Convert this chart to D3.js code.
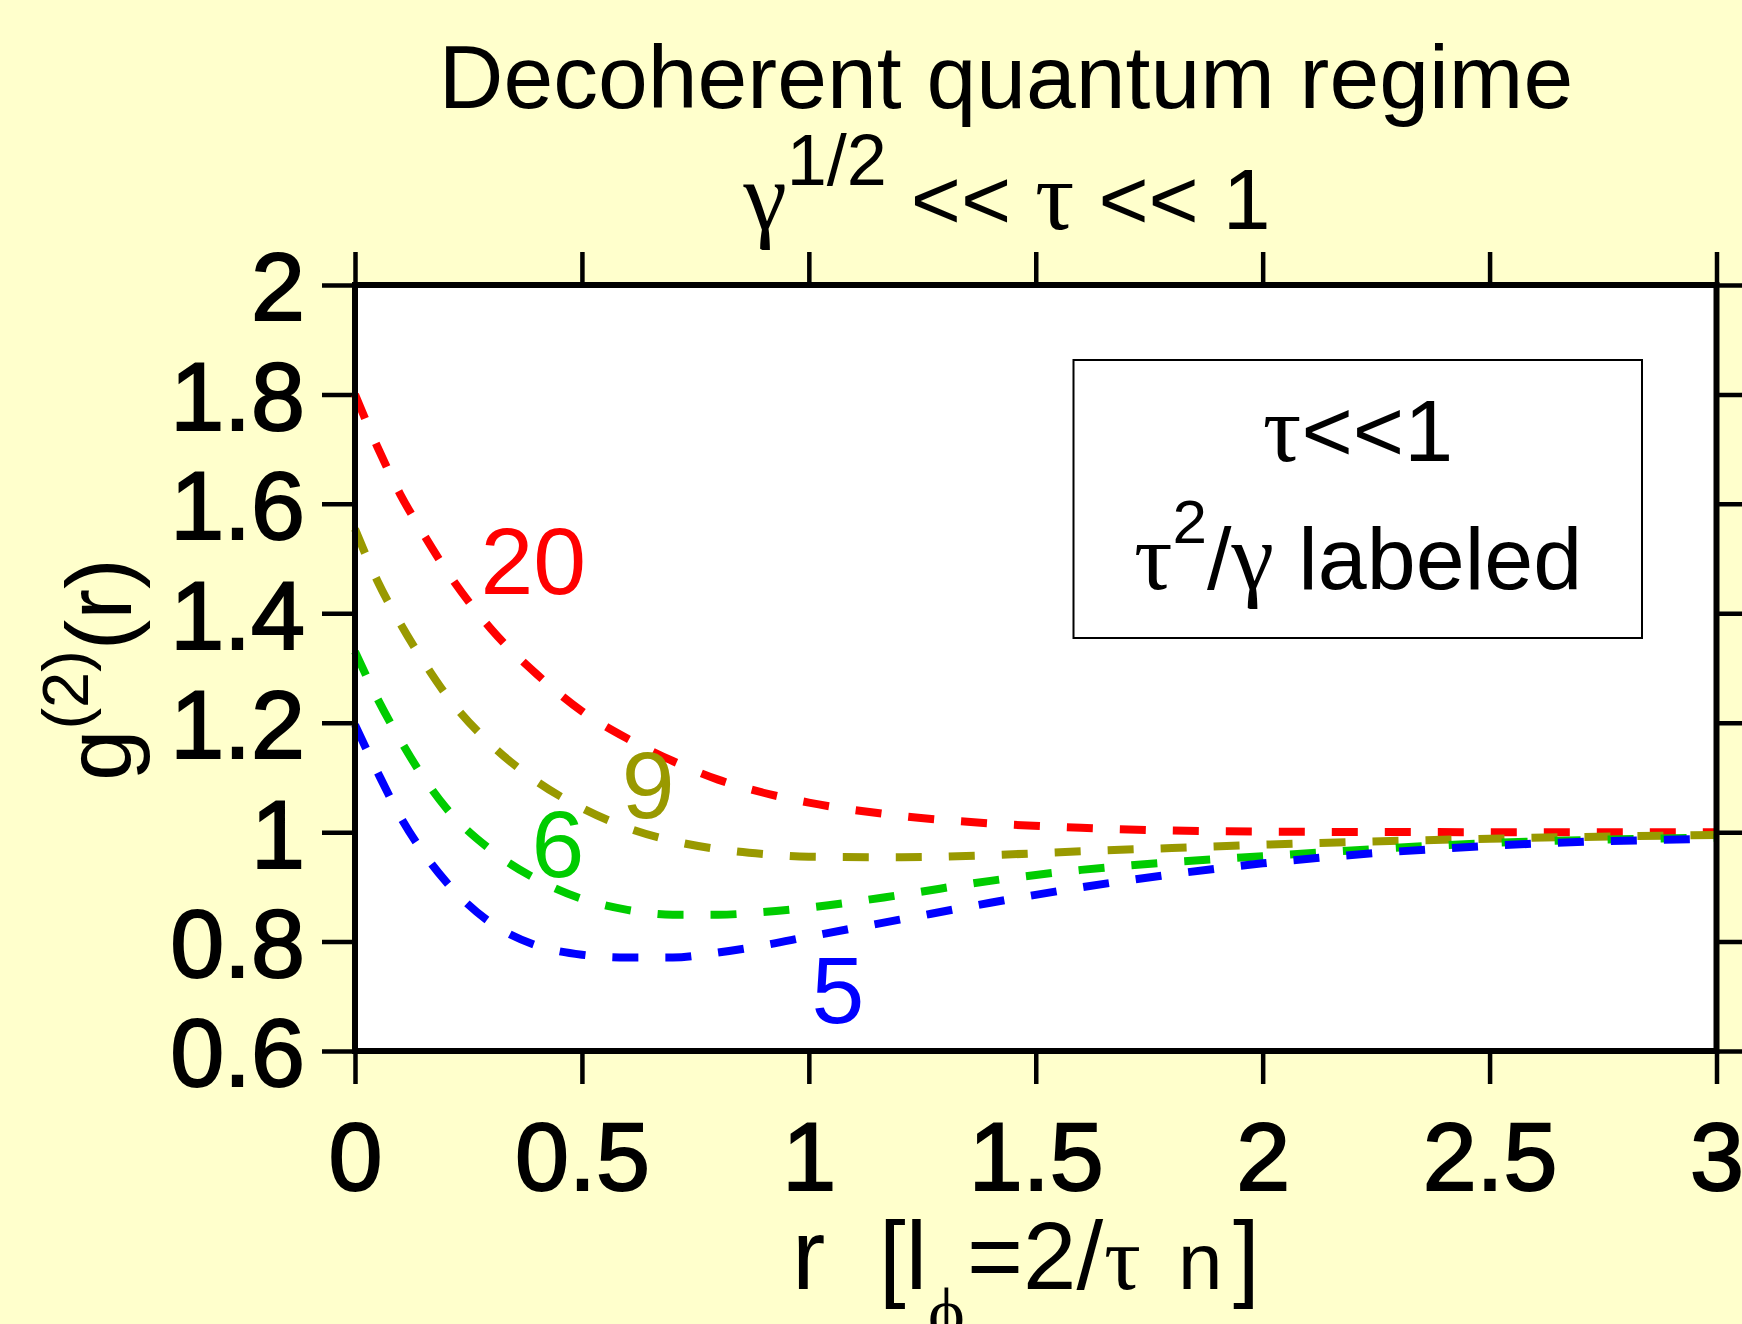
<!DOCTYPE html>
<html>
<head>
<meta charset="utf-8">
<script src="https://cdn.jsdelivr.net/npm/d3@7"></script>
<style>
  body { margin: 0; background: #ffffcc; }
  text { font-family: "Liberation Sans", Arial, Helvetica, sans-serif; fill: #000; }
  .greek { font-family: "Liberation Serif", "Times New Roman", serif; }
</style>
</head>
<body>
<svg id="grafico" width="1742" height="1324"></svg>
<script>

// valores: r en unidades de l_phi, g2(r) por cada tau^2/gamma
var radios = [0, 0.05, 0.1, 0.15, 0.2, 0.3, 0.4, 0.5, 0.6, 0.7, 0.8, 0.9, 1.0, 1.2, 1.4, 1.6, 1.8, 2.0, 2.5, 3.0];
var g2Veinte = [1.800, 1.703, 1.617, 1.546, 1.480, 1.371, 1.289, 1.221, 1.171, 1.130, 1.096, 1.072, 1.054, 1.030, 1.016, 1.008, 1.003, 1.001, 1.000, 1.000];
var g2Nueve  = [1.554, 1.458, 1.381, 1.313, 1.252, 1.160, 1.093, 1.044, 1.008, 0.984, 0.969, 0.960, 0.955, 0.954, 0.958, 0.965, 0.971, 0.977, 0.988, 0.995];
var g2Seis   = [1.330, 1.243, 1.168, 1.101, 1.045, 0.967, 0.914, 0.878, 0.858, 0.849, 0.849, 0.854, 0.862, 0.885, 0.911, 0.931, 0.945, 0.956, 0.980, 0.990];
var g2Cinco  = [1.196, 1.109, 1.028, 0.963, 0.910, 0.834, 0.793, 0.776, 0.771, 0.771, 0.780, 0.793, 0.809, 0.840, 0.871, 0.899, 0.923, 0.943, 0.975, 0.988];

var etiquetasCurvas = ["20", "9", "6", "5"];

var ticksX = [0, 0.5, 1, 1.5, 2, 2.5, 3];
var etiquetasX = ["0", "0.5", "1", "1.5", "2", "2.5", "3"];
var ticksY = [0.6, 0.8, 1, 1.2, 1.4, 1.6, 1.8, 2];
var etiquetasY = ["0.6", "0.8", "1", "1.2", "1.4", "1.6", "1.8", "2"];

// estilos y posiciones (no son datos)
var colores = ["#ff0000", "#999900", "#00cc00", "#0000ff"];
var posEtiquetas = [[0.393, 1.435], [0.646, 1.026], [0.447, 0.918], [1.064, 0.651]];

var izq = 355, arriba = 285;
var ancho = 1361.5, alto = 766;

var svg = d3.select("#grafico");

var x = d3.scaleLinear().domain([0, 3]).range([0, ancho]);
var y = d3.scaleLinear().domain([0.6, 2]).range([alto, 0]);

var g = svg.append("g").attr("transform", "translate(" + izq + "," + arriba + ")");

g.append("rect")
    .attr("width", ancho)
    .attr("height", alto)
    .style("fill", "#fff");

// ejes en los cuatro lados, ticks hacia fuera
function estiloEje(sel) {
    sel.select(".domain").remove();
    sel.selectAll(".tick line").style("stroke", "#000").style("stroke-width", 4.5);
    sel.selectAll(".tick text")
        .style("font-size", "97px")
        .style("fill", "#000")
        .style("stroke", "#000")
        .style("stroke-width", 2);
}

g.append("g")
    .call(d3.axisLeft(y).tickValues(ticksY).tickSize(33).tickPadding(17)
        .tickFormat(function (d, i) { return etiquetasY[i]; }))
    .call(estiloEje)
    .selectAll(".tick text").attr("dy", "0.36em");

g.append("g")
    .attr("transform", "translate(" + ancho + ",0)")
    .call(d3.axisRight(y).tickValues(ticksY).tickSize(33).tickFormat(""))
    .call(estiloEje);

g.append("g")
    .attr("transform", "translate(0," + alto + ")")
    .call(d3.axisBottom(x).tickValues(ticksX).tickSize(33).tickPadding(37)
        .tickFormat(function (d, i) { return etiquetasX[i]; }))
    .call(estiloEje);

g.append("g")
    .call(d3.axisTop(x).tickValues(ticksX).tickSize(33).tickFormat(""))
    .call(estiloEje);

// curvas
var series = [g2Veinte, g2Nueve, g2Seis, g2Cinco];

var linea = d3.line()
    .x(function (d) { return x(d[0]); })
    .y(function (d) { return y(d[1]); })
    .curve(d3.curveMonotoneX);

series.forEach(function (valores, i) {
    var puntos = radios.map(function (r, j) { return [r, valores[j]]; });
    g.append("path")
        .datum(puntos)
        .attr("d", linea)
        .style("fill", "none")
        .style("stroke", colores[i])
        .style("stroke-width", 8)
        .style("stroke-dasharray", "26,27");

    g.append("text")
        .attr("x", x(posEtiquetas[i][0]))
        .attr("y", y(posEtiquetas[i][1]))
        .attr("text-anchor", "middle")
        .style("font-size", "95px")
        .style("fill", colores[i])
        .text(etiquetasCurvas[i]);
});

// marco
g.append("rect")
    .attr("width", ancho)
    .attr("height", alto)
    .style("fill", "none")
    .style("stroke", "#000")
    .style("stroke-width", 6);

// recuadro de leyenda
svg.append("rect")
    .attr("x", 1073.5).attr("y", 360)
    .attr("width", 568.5).attr("height", 278)
    .style("fill", "#fff")
    .style("stroke", "#000")
    .style("stroke-width", 2);

var ley1 = svg.append("text")
    .attr("x", 1358).attr("y", 461)
    .attr("text-anchor", "middle")
    .style("font-size", "88px");
ley1.append("tspan").attr("class", "greek").style("font-size", "96px").text("τ");
ley1.append("tspan").text("<<1");

var ley2 = svg.append("text")
    .attr("x", 1358).attr("y", 589)
    .attr("text-anchor", "middle")
    .style("font-size", "88px");
ley2.append("tspan").attr("class", "greek").style("font-size", "96px").text("τ");
ley2.append("tspan").attr("dy", -46).style("font-size", "62px").text("2");
ley2.append("tspan").attr("dy", 46).text("/");
ley2.append("tspan").attr("class", "greek").style("font-size", "96px").text("γ");
ley2.append("tspan").text(" labeled");

// titulo
svg.append("text")
    .attr("x", 1006).attr("y", 108)
    .attr("text-anchor", "middle")
    .style("font-size", "89.5px")
    .text("Decoherent quantum regime");

var tit2 = svg.append("text")
    .attr("x", 1007).attr("y", 229)
    .attr("text-anchor", "middle")
    .style("font-size", "86px")
    .style("white-space", "pre");
tit2.append("tspan").attr("class", "greek").style("font-size", "98px").text("γ");
tit2.append("tspan").attr("dy", -44).style("font-size", "72px").text("1/2");
tit2.append("tspan").attr("dy", 44).text(" << ");
tit2.append("tspan").attr("class", "greek").style("font-size", "98px").text("τ");
tit2.append("tspan").text(" << 1");

// titulo eje x
var tx = svg.append("text")
    .attr("y", 1289)
    .style("font-size", "96px");
tx.append("tspan").attr("x", 792).style("font-size", "100px").text("r");
tx.append("tspan").attr("x", 879).text("[l");
tx.append("tspan").attr("x", 928).attr("dy", 47).attr("class", "greek").style("font-size", "70px").text("ϕ");
tx.append("tspan").attr("x", 967).attr("dy", -47).text("=2/");
tx.append("tspan").attr("x", 1104).attr("class", "greek").style("font-size", "92px").text("τ");
tx.append("tspan").attr("x", 1178).style("font-size", "80px").text("n");
tx.append("tspan").attr("x", 1233).text("]");

// titulo eje y
var ty = svg.append("text")
    .attr("transform", "translate(131,669.5) rotate(-90)")
    .attr("text-anchor", "middle")
    .style("font-size", "92px");
ty.append("tspan").text("g");
ty.append("tspan").attr("dy", -43).style("font-size", "65px").text("(2)");
ty.append("tspan").attr("dy", 43).text("(r)");

</script>
</body>
</html>
